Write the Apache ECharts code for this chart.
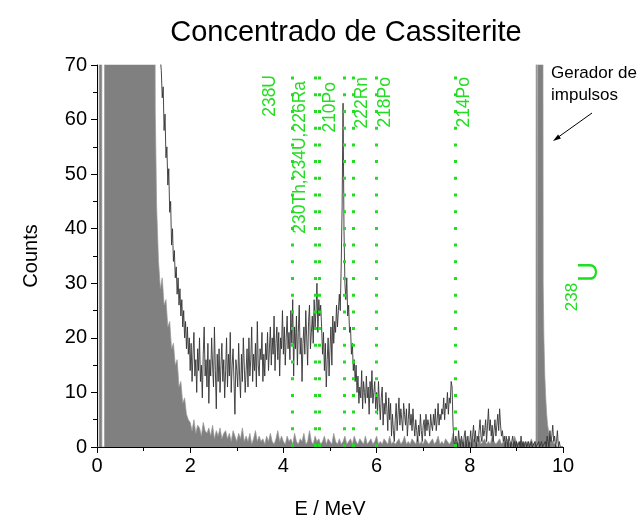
<!DOCTYPE html>
<html><head><meta charset="utf-8">
<script src="https://cdn.jsdelivr.net/npm/echarts@6/dist/echarts.min.js"></script>
<style>html,body{margin:0;padding:0;background:#fff}#c{width:637px;height:524px}</style>
</head><body><div id="c"></div>
<script>
const chartTitle = 'Concentrado de Cassiterite';
const xName = 'E / MeV';
const yName = 'Counts';

// Sample spectrum (black trace): counts per channel, energies from 1.20 MeV in 0.02 MeV steps
const sampleStartE = 1.20, sampleStepE = 0.02;
const sampleCounts = [
  120, 110, 100, 92, 85, 80, 76, 73, 71, 69, 64, 66, 58, 61, 53, 55, 48, 51, 43, 45,   // 1.20
  37, 40, 34, 36, 31, 33, 28, 31, 26, 29, 24, 27, 22, 25, 20, 23, 18, 22, 17, 20,      // 1.60
  14, 19, 12, 17, 21, 13, 16, 10, 18, 14, 20, 12, 15, 9, 17, 22, 13, 16, 11, 19,       // 2.00
  8, 16, 13, 20, 15, 11, 22, 14, 7, 17, 12, 18, 10, 15, 19, 12, 16, 9, 14, 20,         // 2.40
  11, 17, 13, 21, 10, 15, 18, 12, 6, 16, 14, 11, 19, 13, 9, 17, 12, 20, 15, 10,        // 2.80
  14, 18, 11, 20, 13, 16, 22, 12, 17, 14, 19, 11, 23, 15, 13, 18, 16, 21, 12, 17,      // 3.20
  13, 19, 16, 21, 14, 18, 22, 15, 20, 17, 24, 14, 19, 22, 16, 21, 13, 20, 18, 25,      // 3.60
  17, 22, 15, 20, 24, 18, 21, 16, 25, 19, 27, 13, 22, 18, 24, 15, 21, 26, 17, 20,      // 4.00
  12, 19, 22, 17, 25, 20, 15, 23, 26, 18, 21, 24, 19, 27, 22, 25, 30, 21, 27, 24,      // 4.40
  26, 22, 17, 21, 14, 19, 11, 16, 20, 13, 18, 22, 15, 24, 19, 23, 21, 26, 22, 25,      // 4.80
  28, 25, 33, 44, 63, 40, 30, 27, 31, 24, 26, 21, 22, 17, 19, 14, 16, 12, 15, 10,      // 5.20
  13, 8, 11, 9, 14, 7, 12, 10, 8, 13, 9, 11, 6, 12, 9, 14, 8, 10, 12, 7,               // 5.60
  10, 6, 12, 8, 5, 9, 11, 4, 8, 6, 10, 7, 3, 9, 5, 8, 2, 6, 3, 1,                      // 6.00
  5, 8, 3, 6, 9, 4, 7, 5, 3, 8, 6, 4, 7, 2, 5, 8, 4, 6, 3, 7,                          // 6.40
  4, 2, 5, 3, 1, 4, 2, 6, 3, 1, 4, 5, 2, 6, 3, 5, 4, 2, 6, 4,                          // 6.80
  3, 6, 4, 7, 3, 5, 8, 4, 6, 5, 7, 6, 9, 5, 8, 7, 10, 6, 9, 8,                         // 7.20
  12, 11, 4, 1, 0, 2, 1, 0, 3, 1, 0, 2, 1, 0, 2, 3, 0, 1, 2, 0,                        // 7.60
  1, 3, 0, 2, 4, 1, 3, 0, 2, 1, 3, 5, 2, 1, 4, 2, 3, 5, 1, 4,                          // 8.00
  7, 3, 5, 2, 4, 1, 3, 5, 2, 4, 6, 3, 7, 4, 2, 3, 1, 2, 0, 2,                          // 8.40
  1, 0, 2, 1, 0, 1, 2, 0, 1, 0, 1, 0, 0, 1, 0, 2, 0, 1, 0, 0,                          // 8.80
  1, 0, 0, 1, 0, 0, 1, 0, 0, 0, 1, 0, 0, 0, 1, 0, 0, 1, 0, 0,                          // 9.20
  0, 1, 0, 2, 1, 0, 3, 1, 2, 4, 1, 2, 0, 1, 3, 0, 1, 0, 0, 0, 0                        // 9.60
];

// Background spectrum (grey fill): low-energy part
const bgHeadE = [0, 0.045, 0.05, 0.10, 0.105, 0.16, 0.165, 1.22, 1.25, 1.28, 1.32, 1.36, 1.40, 1.44, 1.48,
  1.52, 1.56, 1.60, 1.64, 1.68, 1.72, 1.76, 1.80, 1.84, 1.88, 1.92, 1.96];
const bgHeadC = [0, 0, 200, 200, 0, 0, 200, 200, 62, 44, 34, 29, 31, 26, 27,
  22, 23, 18, 19, 15, 16, 11, 12, 8, 9, 6, 5];
// Background tail from 2.00 MeV in 0.04 MeV steps
const bgTailStartE = 2.00, bgTailStepE = 0.04;
const bgTailC = [
  4.5, 3, 5, 2.5, 4, 3.5, 2, 4.5, 3, 2.5,       // 2.00
  3.5, 2, 4, 1.5, 3, 2, 3.5, 1.5, 2.5, 3,       // 2.40
  1.5, 2.5, 1, 3, 2, 1, 2.5, 1.5, 3.5, 1,       // 2.80
  2, 1, 2.5, 0.5, 1.5, 3, 1, 2, 1, 1.5,         // 3.20
  0.5, 2, 1, 2.5, 1, 0.5, 1.5, 3, 1, 2,         // 3.60
  1, 0.5, 2, 1, 1.5, 0.5, 2.5, 1, 0.5, 1.5,     // 4.00
  1, 2.5, 0.5, 1, 3, 1, 0.5, 2, 1, 1.5,         // 4.40
  0.5, 1, 2, 0.5, 1.5, 1, 0.5, 2.5, 1, 0.5,     // 4.80
  1.5, 0.5, 1, 2, 0.5, 1, 1.5, 0.5, 2, 1,       // 5.20
  0.5, 1.5, 1, 0.5, 2, 0.5, 1, 1.5, 0.5, 1,     // 5.60
  2, 0.5, 1, 0.5, 1.5, 1, 0.5, 2, 0.5, 1,       // 6.00
  0.5, 1, 1.5, 0.5, 1, 2, 0.5, 1, 0.5, 1.5,     // 6.40
  1, 0.5, 2, 0.5, 1, 0.5, 1.5, 1, 0.5, 1,       // 6.80
  1.5, 0.5, 1, 2, 0.5, 1, 0.5, 1.5, 1, 0.5,     // 7.20
  1, 2.5, 0.5, 1, 0.5, 1.5, 1, 0.5, 2, 0.5,     // 7.60
  1, 0.5, 1.5, 1, 0.5, 2, 0.5, 1, 1.5, 0.5,     // 8.00
  1, 0.5, 2, 1, 0.5, 1, 1.5, 0.5, 1, 0.5,       // 8.40
  1.5, 0.5, 1, 0.5, 2, 1, 0.5, 1, 0.5, 1,       // 8.80
  0.5, 1, 0.5, 1.5, 0.5, 1                      // 9.20
];
// Pulse generator peak
const pulserE = [9.42, 9.428, 9.43, 9.445, 9.447, 9.472, 9.474, 9.558, 9.575, 9.59, 9.61, 9.63, 9.65, 9.67, 9.70, 9.74, 9.78, 9.82, 9.88, 10.0];
const pulserC = [0.5, 0.5, 200, 200, 0, 0, 200, 200, 30, 20, 13, 9, 6, 4, 2.5, 1.5, 1, 0.5, 0, 0];

// Alpha lines (MeV) and their labels
const alphaE = [4.198, 4.687, 4.775, 5.304, 5.490, 6.002, 7.687];
const alphaLabels = ['238U', '230Th,234U,226Ra', '', '210Po', '222Rn', '218Po', '214Po'];

const FONT = 'Liberation Sans, Arial, sans-serif';
const GREEN = '#22dd22';

const sampleData = sampleCounts.map((c, i) => [+(sampleStartE + i * sampleStepE).toFixed(3), c]);
const bgData = bgHeadE.map((e, i) => [e, bgHeadC[i]])
  .concat(bgTailC.map((c, i) => [+(bgTailStartE + i * bgTailStepE).toFixed(3), c]))
  .concat(pulserE.map((e, i) => [e, pulserC[i]]));

const labelPlacement = {
  '238U': { position: 'insideEndTop', distance: [10, 14] },
  '230Th,234U,226Ra': { position: 'insideEndTop', distance: [16, 6] },
  '210Po': { position: 'insideEndTop', distance: [17, 5] },
  '222Rn': { position: 'insideEndBottom', distance: [12, 0] },
  '218Po': { position: 'insideEndBottom', distance: [12, 0] },
  '214Po': { position: 'insideEndBottom', distance: [12, 0] }
};

const markData = alphaE.map((e, i) => {
  const lab = alphaLabels[i];
  const item = { xAxis: e };
  if (lab) {
    item.label = Object.assign({ show: true, formatter: lab, color: GREEN, fontSize: 17.5, fontFamily: FONT }, labelPlacement[lab]);
  } else {
    item.label = { show: false };
  }
  return item;
});

const chart = echarts.init(document.getElementById('c'), null, { renderer: 'canvas' });
chart.setOption({
  animation: false,
  backgroundColor: '#fff',
  textStyle: { fontFamily: FONT },
  title: {
    text: chartTitle, left: 341, top: 13, textAlign: 'center',
    textStyle: { fontSize: 29, fontWeight: 'normal', color: '#000', fontFamily: FONT }
  },
  grid: { left: 97, right: 74, top: 65, bottom: 77, containLabel: false },
  xAxis: {
    type: 'value', min: 0, max: 10, interval: 2,
    name: xName, nameLocation: 'middle', nameGap: 52,
    nameTextStyle: { fontSize: 20, color: '#000', fontFamily: FONT },
    axisLine: { show: true, onZero: false, lineStyle: { color: '#000', width: 1 } },
    axisTick: { show: true, length: 6, lineStyle: { color: '#000' } },
    minorTick: { show: true, splitNumber: 2, length: 4, lineStyle: { color: '#000' } },
    splitLine: { show: false },
    axisLabel: { fontSize: 20, color: '#000', margin: 9, fontFamily: FONT }
  },
  yAxis: {
    type: 'value', min: 0, max: 70, interval: 10,
    name: yName, nameLocation: 'middle', nameGap: 56, nameRotate: 90,
    nameTextStyle: { fontSize: 20, color: '#000', fontFamily: FONT },
    axisLine: { show: true, onZero: false, lineStyle: { color: '#000', width: 1 } },
    axisTick: { show: true, length: 6, lineStyle: { color: '#000' } },
    minorTick: { show: true, splitNumber: 2, length: 4, lineStyle: { color: '#000' } },
    splitLine: { show: false },
    axisLabel: { fontSize: 20, color: '#000', margin: 10, fontFamily: FONT }
  },
  series: [
    {
      type: 'line', data: bgData, symbol: 'none', clip: true, z: 1,
      lineStyle: { width: 0.7, color: '#9a9a9a' },
      areaStyle: { color: '#808080', opacity: 1 }
    },
    {
      type: 'line', data: sampleData, symbol: 'none', clip: true, z: 2,
      lineStyle: { width: 0.9, color: '#333333' },
      markLine: {
        silent: true, symbol: 'none', animation: false,
        lineStyle: { color: GREEN, type: [3, 13.7], width: 3, cap: 'butt' },
        data: markData
      }
    }
  ],
  graphic: [
    {
      type: 'text', left: 551, top: 62,
      style: { text: 'Gerador de\nimpulsos', font: '17px ' + FONT, fill: '#000', lineHeight: 22 }
    },
    {
      type: 'line', shape: { x1: 592, y1: 113, x2: 557, y2: 138 },
      style: { stroke: '#000', lineWidth: 1 }
    },
    {
      type: 'polygon', shape: { points: [[553, 141], [560.9, 138.4], [558.1, 134.4]] },
      style: { fill: '#000' }
    },
    {
      type: 'text', x: 589, y: 272, rotation: Math.PI / 2,
      style: { text: 'U', font: '28px ' + FONT, fill: GREEN, align: 'center', verticalAlign: 'middle' }
    },
    {
      type: 'text', x: 572, y: 297, rotation: Math.PI / 2,
      style: { text: '238', font: '17px ' + FONT, fill: GREEN, align: 'center', verticalAlign: 'middle' }
    }
  ]
});
</script>
</body></html>
